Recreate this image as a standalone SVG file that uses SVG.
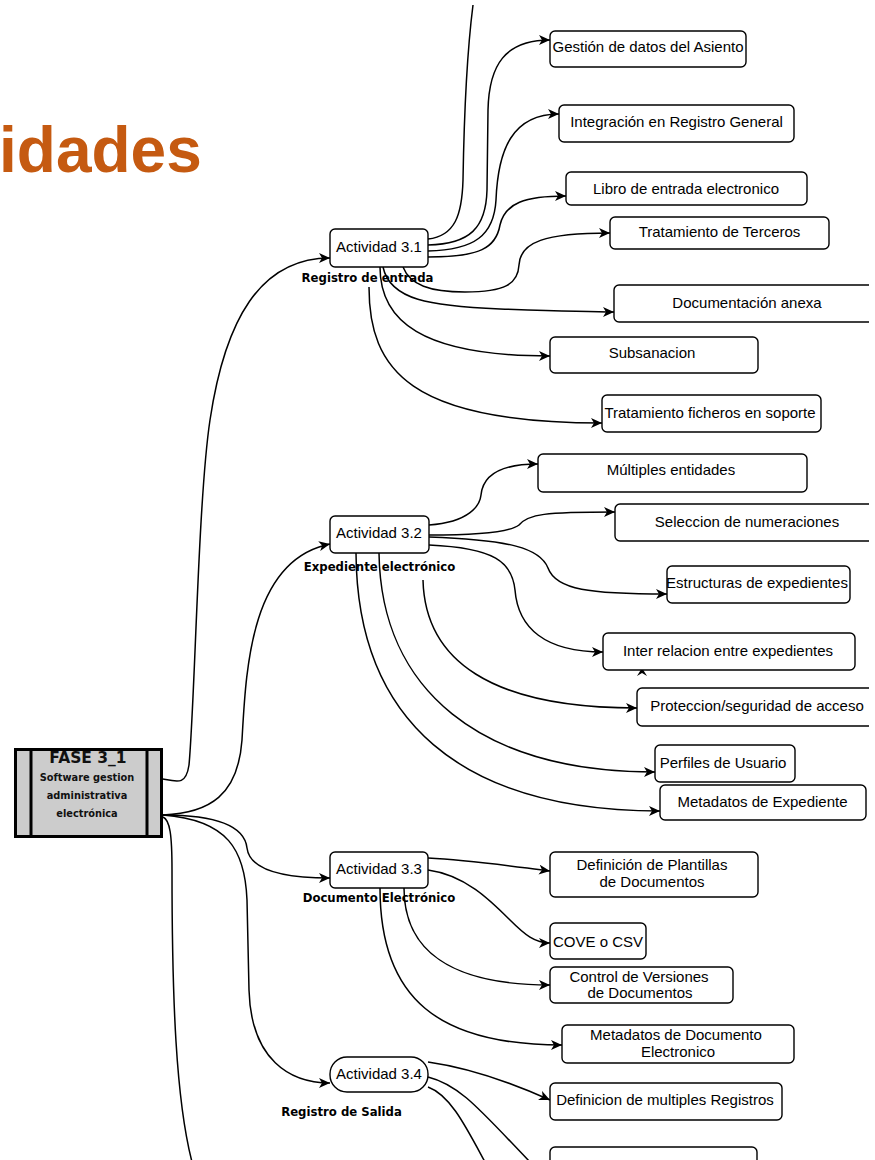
<svg xmlns="http://www.w3.org/2000/svg" width="875" height="1160" viewBox="0 0 875 1160">
<defs>
<style>
.n{fill:#fff;stroke:#000;stroke-width:1.4}
.t{font-family:"Liberation Sans",Arial,sans-serif;font-size:15px;fill:#000;text-anchor:middle}
.lb{font-family:"DejaVu Sans",Verdana,sans-serif;font-weight:bold;font-size:11.7px;fill:#000;text-anchor:middle}
.fs{font-family:"DejaVu Sans",Verdana,sans-serif;font-weight:bold;fill:#111;text-anchor:middle}
.c{fill:none;stroke:#000;stroke-width:1.5}
.a{marker-end:url(#arr)}
</style>
<marker id="arr" markerWidth="12" markerHeight="10" refX="11" refY="5" orient="auto" markerUnits="userSpaceOnUse">
<path d="M0,0 L11,5 L0,10 L3,5 Z" fill="#000"/>
</marker>
</defs>
<rect width="875" height="1160" fill="#fff"/>
<text x="-1" y="172" font-family="'Liberation Sans',Arial,sans-serif" font-weight="bold" font-size="64" fill="#C55A11">idades</text>

<g id="connectors">
<path class="c a" d="M163,779 C178,782 186,785 189,765 C195,700 198,500 210,420 C225,320 260,258 330,258"/>
<path class="c a" d="M163,815 C210,813 238,795 242,740 C246,670 250,560 330,544"/>
<path class="c a" d="M163,815 C225,815 245,830 247,848 C250,872 290,878 330,878"/>
<path class="c a" d="M163,815 C228,820 245,850 247,900 L249,990 C251,1060 290,1083 330,1083"/>
<path class="c" d="M163,817 C170,820 172,835 172,870 C172,1000 176,1100 192,1162"/>

<path class="c" d="M428,239 C455,236 462,215 463,180 C464,120 466,60 473,5"/>
<path class="c a" d="M428,245 C470,244 486,228 487,190 L488,110 C489,65 505,40 550,40"/>
<path class="c a" d="M428,251 C475,250 494,235 496,200 C498,150 512,114 559,114"/>
<path class="c a" d="M428,257 C480,257 496,248 500,225 C505,203 525,196 566,196"/>
<path class="c a" d="M403,267 C410,285 430,292 465,292 C505,292 518,284 519,265 C520,242 545,233 610,233"/>
<path class="c a" d="M383,267 C390,300 430,306 500,309 C560,311 590,312 614,312"/>
<path class="c a" d="M380,267 C380,320 420,356 550,356"/>
<path class="c a" d="M369,287 C369,370 410,423 602,423"/>

<path class="c a" d="M429,525 C470,522 480,505 481,495 C483,475 500,464 538,464"/>
<path class="c a" d="M429,535 C480,535 510,532 519,525 C528,514 545,512 615,512"/>
<path class="c a" d="M429,537 C510,540 540,548 548,568 C556,590 590,594 667,594"/>
<path class="c a" d="M429,545 C495,548 512,562 515,590 C518,628 545,652 603,652"/>
<path class="c a" d="M423,580 C425,660 490,708 637,708"/>
<path class="c a" d="M379,553 C381,690 480,772 655,772"/>
<path class="c a" d="M356,553 C357,720 460,811 660,811"/>
<path d="M637,676 L642,668 L647,676 L642,673 Z" fill="#000"/>

<path class="c a" d="M428,858 C470,860 510,866 550,871"/>
<path class="c a" d="M428,870 C465,875 490,900 510,920 C525,935 535,943 550,943"/>
<path class="c a" d="M404,888 C404,950 450,985 550,985"/>
<path class="c a" d="M380,888 C380,1000 440,1045 562,1045"/>

<path class="c a" d="M428,1062 C470,1068 510,1082 550,1100"/>
<path class="c" d="M428,1077 C460,1085 480,1110 530,1162"/>
<path class="c" d="M428,1087 C450,1095 465,1125 485,1162"/>
</g>

<g id="fase">
<rect x="15.5" y="749.5" width="146" height="87" fill="#ccc" stroke="#000" stroke-width="3"/>
<line x1="31" y1="749" x2="31" y2="837" stroke="#000" stroke-width="3"/>
<line x1="147" y1="749" x2="147" y2="837" stroke="#000" stroke-width="3"/>
<text class="fs" x="88" y="763" font-size="15.5">FASE 3_1</text>
<text class="fs" x="87" y="781" font-size="9.8">Software gestion</text>
<text class="fs" x="87" y="799" font-size="9.8">administrativa</text>
<text class="fs" x="87" y="817" font-size="9.8">electrónica</text>
</g>

<g id="act31"><rect class="n" x="330" y="229" width="98" height="38" rx="5"/><text class="t" x="379" y="252">Actividad 3.1</text><text class="lb" x="367.5" y="282">Registro de entrada</text></g>
<g id="act32"><rect class="n" x="330" y="516" width="99" height="37" rx="5"/><text class="t" x="379" y="538">Actividad 3.2</text><text class="lb" x="379.5" y="571">Expediente electrónico</text></g>
<g id="act33"><rect class="n" x="330" y="852" width="98" height="36" rx="5"/><text class="t" x="379" y="874">Actividad 3.3</text><text class="lb" x="379" y="902">Documento Electrónico</text></g>
<g id="act34"><rect class="n" x="330" y="1057" width="98" height="35" rx="17"/><text class="t" x="379" y="1079">Actividad 3.4</text><text class="lb" x="341.5" y="1116">Registro de Salida</text></g>

<g id="n-gestion"><rect class="n" x="550" y="31" width="196" height="36" rx="5"/><text class="t" x="648" y="52">Gestión de datos del Asiento</text></g>
<g id="n-integracion"><rect class="n" x="559" y="105" width="235" height="37" rx="5"/><text class="t" x="676.5" y="127">Integración en Registro General</text></g>
<g id="n-libro"><rect class="n" x="566" y="172" width="241" height="33" rx="5"/><text class="t" x="686" y="194">Libro de entrada electronico</text></g>
<g id="n-terceros"><rect class="n" x="610" y="217" width="219" height="32" rx="5"/><text class="t" x="719.5" y="237">Tratamiento de Terceros</text></g>
<g id="n-docanexa"><rect class="n" x="614" y="285" width="268" height="37" rx="5"/><text class="t" x="747" y="308">Documentación anexa</text></g>
<g id="n-subsanacion"><rect class="n" x="550" y="337" width="208" height="36" rx="5"/><text class="t" x="652" y="358">Subsanacion</text></g>
<g id="n-ficheros"><rect class="n" x="602" y="395" width="219" height="37" rx="5"/><text class="t" x="710" y="418">Tratamiento ficheros en soporte</text></g>

<g id="n-multiples"><rect class="n" x="538" y="454" width="269" height="38" rx="5"/><text class="t" x="671" y="475">Múltiples entidades</text></g>
<g id="n-seleccion"><rect class="n" x="615" y="504" width="267" height="37" rx="5"/><text class="t" x="747" y="527">Seleccion de numeraciones</text></g>
<g id="n-estructuras"><rect class="n" x="667" y="566" width="183" height="37" rx="5"/><text class="t" x="757" y="588">Estructuras de expedientes</text></g>
<g id="n-inter"><rect class="n" x="603" y="633" width="252" height="37" rx="5"/><text class="t" x="728" y="656">Inter relacion entre expedientes</text></g>
<g id="n-proteccion"><rect class="n" x="637" y="688" width="245" height="38" rx="5"/><text class="t" x="757" y="711">Proteccion/seguridad de acceso</text></g>
<g id="n-perfiles"><rect class="n" x="655" y="745" width="140" height="37" rx="5"/><text class="t" x="723" y="768">Perfiles de Usuario</text></g>
<g id="n-metaexp"><rect class="n" x="660" y="785" width="206" height="35" rx="5"/><text class="t" x="762.5" y="807">Metadatos de Expediente</text></g>

<g id="n-plantillas"><rect class="n" x="550" y="852" width="208" height="45" rx="5"/><text class="t" x="652" y="870">Definición de Plantillas</text><text class="t" x="652" y="887">de Documentos</text></g>
<g id="n-cove"><rect class="n" x="550" y="923" width="96" height="36" rx="5"/><text class="t" x="598" y="947">COVE o CSV</text></g>
<g id="n-control"><rect class="n" x="550" y="967" width="183" height="36" rx="5"/><text class="t" x="639" y="982">Control de Versiones</text><text class="t" x="640" y="998">de Documentos</text></g>
<g id="n-metadoc"><rect class="n" x="562" y="1025" width="232" height="38" rx="5"/><text class="t" x="676" y="1040">Metadatos de Documento</text><text class="t" x="678" y="1057">Electronico</text></g>

<g id="n-defreg"><rect class="n" x="550" y="1083" width="232" height="37" rx="5"/><text class="t" x="665" y="1105">Definicion de multiples Registros</text></g>
<g id="n-cut"><rect class="n" x="550" y="1147" width="207" height="36" rx="5"/></g>
<rect x="869" y="280" width="6" height="450" fill="#fff"/>
</svg>
